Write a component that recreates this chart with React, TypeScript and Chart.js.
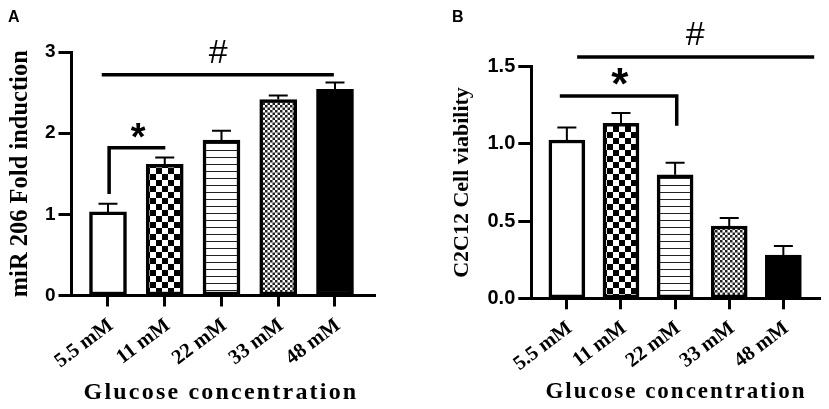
import React, { useEffect, useRef } from "react";
import { Chart, registerables } from "chart.js";

Chart.register(...registerables);

const categories = ["5.5 mM", "11 mM", "22 mM", "33 mM", "48 mM"];
const positions = [0, 1, 2, 3, 4];

const inductionValues = [1.03, 1.615, 1.915, 2.415, 2.54];
const inductionErrorTops = [1.13, 1.7, 2.03, 2.465, 2.625];
const inductionTicks = [0, 1, 2, 3];
const inductionHashLine = [[-0.11, 2.72], [3.98, 2.72]];
const inductionStarLine = [[0.02, 1.25], [0.02, 1.82], [1.01, 1.82]];
const inductionHashAt = [1.94, 2.98];
const inductionStarAt = [0.53, 2.03];

const viabilityValues = [1.025, 1.133, 0.8, 0.468, 0.28];
const viabilityErrorTops = [1.107, 1.2, 0.878, 0.52, 0.339];
const viabilityTicks = [0, 0.5, 1.0, 1.5];
const viabilityHashLine = [[0.19, 1.563], [4.57, 1.563]];
const viabilityStarLine = [[-0.13, 1.31], [2.03, 1.31], [2.03, 1.118]];
const viabilityHashAt = [2.37, 1.7];
const viabilityStarAt = [0.98, 1.43];

function makePattern(size: number, paint: (c: CanvasRenderingContext2D) => void) {
  const cv = document.createElement("canvas");
  cv.width = size;
  cv.height = size;
  const c = cv.getContext("2d")!;
  c.fillStyle = "#fff";
  c.fillRect(0, 0, size, size);
  c.fillStyle = "#000";
  paint(c);
  return c.createPattern(cv, "repeat")!;
}

function fills() {
  const coarse = makePattern(12, (c) => {
    c.fillRect(0, 0, 6, 6);
    c.fillRect(6, 6, 6, 6);
  });
  const lines = makePattern(7, (c) => {
    c.fillStyle = "#222";
    c.fillRect(0, 3, 7, 1);
  });
  const fine = makePattern(5, (c) => {
    c.fillStyle = "#222";
    c.fillRect(0, 0, 2.5, 2.5);
    c.fillRect(2.5, 2.5, 2.5, 2.5);
  });
  return ["#ffffff", coarse, lines, fine, "#000000"];
}

const serifBold = "'Liberation Serif'";
const sansBold = "'Liberation Sans'";

type PanelSpec = {
  letter: string;
  letterX: number;
  letterY: number;
  values: number[];
  errorTops: number[];
  ticks: number[];
  tickDigits: number;
  tickSize: number;
  yMax: number;
  xMin: number;
  xMax: number;
  width: number;
  left: number;
  right: number;
  top: number;
  bottom: number;
  barWidth: number;
  yTitle: string;
  yTitleSize: number;
  yTitlePad: number;
  hashLine: number[][];
  starLine: number[][];
  hashAt: number[];
  starAt: number[];
  starSize: number;
  xTitleX: number;
  xTitleY: number;
  xTitleSize: number;
  xTitleSpacing: number;
  offset: number;
};

const panelA: PanelSpec = {
  letter: "A", letterX: 8, letterY: 22,
  values: inductionValues, errorTops: inductionErrorTops, ticks: inductionTicks, tickDigits: 0, tickSize: 19,
  yMax: 3, xMin: -0.643, xMax: 4.705,
  width: 415, left: 71.5, right: 375, top: 52, bottom: 295.5, barWidth: 37,
  yTitle: "miR 206 Fold induction", yTitleSize: 24.5, yTitlePad: 6,
  hashLine: inductionHashLine, starLine: inductionStarLine, hashAt: inductionHashAt, starAt: inductionStarAt,
  starSize: 38, xTitleX: 221, xTitleY: 399, xTitleSize: 24, xTitleSpacing: 2.2, offset: 0,
};

const panelB: PanelSpec = {
  letter: "B", letterX: 37, letterY: 22,
  values: viabilityValues, errorTops: viabilityErrorTops, ticks: viabilityTicks, tickDigits: 1, tickSize: 20,
  yMax: 1.5, xMin: -0.657, xMax: 4.69,
  width: 414, left: 116.3, right: 405.7, top: 66.7, bottom: 298.3, barWidth: 36,
  yTitle: "C2C12 Cell viability", yTitleSize: 22, yTitlePad: 34,
  hashLine: viabilityHashLine, starLine: viabilityStarLine, hashAt: viabilityHashAt, starAt: viabilityStarAt,
  starSize: 44, xTitleX: 261, xTitleY: 398, xTitleSize: 23, xTitleSpacing: 2, offset: 415,
};

function Panel({ spec }: { spec: PanelSpec }) {
  const ref = useRef<HTMLCanvasElement>(null);
  useEffect(() => {
    const annotate = {
      id: "annotate",
      afterDatasetsDraw(chart: any) {
        const { ctx, scales } = chart;
        const px = (v: number) => scales.x.getPixelForValue(v);
        const py = (v: number) => scales.y.getPixelForValue(v);
        ctx.save();
        ctx.strokeStyle = "#000";
        // error bars
        ctx.lineWidth = 2;
        spec.values.forEach((v, i) => {
          const x = px(positions[i]);
          ctx.beginPath();
          ctx.moveTo(x, py(v));
          ctx.lineTo(x, py(spec.errorTops[i]));
          ctx.moveTo(x - 9.5, py(spec.errorTops[i]));
          ctx.lineTo(x + 9.5, py(spec.errorTops[i]));
          ctx.stroke();
        });
        // brackets
        ctx.lineWidth = 3.5;
        for (const line of [spec.hashLine, spec.starLine]) {
          ctx.beginPath();
          line.forEach(([x, y], i) => (i ? ctx.lineTo(px(x), py(y)) : ctx.moveTo(px(x), py(y))));
          ctx.stroke();
        }
        ctx.fillStyle = "#000";
        ctx.textAlign = "center";
        ctx.textBaseline = "middle";
        ctx.font = `34px ${sansBold}`;
        ctx.fillText("#", px(spec.hashAt[0]), py(spec.hashAt[1]));
        ctx.font = `bold ${spec.starSize}px ${sansBold}`;
        ctx.fillText("*", px(spec.starAt[0]), py(spec.starAt[1]) + spec.starSize * 0.22);
        // panel letter
        ctx.textAlign = "left";
        ctx.textBaseline = "alphabetic";
        ctx.font = `bold 16px ${sansBold}`;
        ctx.fillText(spec.letter, spec.letterX, spec.letterY);
        // x axis title
        ctx.textAlign = "center";
        ctx.font = `bold ${spec.xTitleSize}px ${serifBold}`;
        (ctx as any).letterSpacing = `${spec.xTitleSpacing}px`;
        ctx.fillText("Glucose concentration", spec.xTitleX, spec.xTitleY);
        ctx.restore();
      },
    };
    const chart = new Chart(ref.current!, {
      type: "bar",
      data: {
        datasets: [
          {
            data: positions.map((x, i) => ({ x, y: spec.values[i] })),
            backgroundColor: fills(),
            borderColor: "#000",
            borderWidth: 3.5,
            borderSkipped: false,
            barThickness: spec.barWidth,
          } as any,
        ],
      },
      options: {
        animation: false,
        responsive: false,
        devicePixelRatio: 1,
        layout: { padding: { top: spec.top, right: spec.width - spec.right, left: 0, bottom: 0 } },
        plugins: { legend: { display: false }, tooltip: { enabled: false } },
        scales: {
          x: {
            type: "linear",
            offset: false,
            min: spec.xMin,
            max: spec.xMax,
            afterBuildTicks(scale: any) {
              scale.ticks = positions.map((value) => ({ value }));
            },
            afterFit(scale: any) {
              scale.height = 409 - spec.bottom;
            },
            grid: { offset: false, drawOnChartArea: false, drawTicks: true, tickLength: 11, tickWidth: 3, tickColor: "#000" },
            border: { display: true, color: "#000", width: 3 },
            ticks: {
              autoSkip: false,
              maxRotation: 37,
              minRotation: 37,
              padding: 7,
              labelOffset: 3,
              color: "#000",
              font: { family: serifBold, weight: "bold", size: 20.5 },
              callback: (v: any) => categories[v as number],
            },
          } as any,
          y: {
            min: 0,
            max: spec.yMax,
            afterBuildTicks(scale: any) {
              scale.ticks = spec.ticks.map((value) => ({ value }));
            },
            afterFit(scale: any) {
              scale.width = spec.left;
            },
            grid: { drawOnChartArea: false, drawTicks: true, tickLength: 13, tickWidth: 3, tickColor: "#000" },
            border: { display: true, color: "#000", width: 3 },
            title: {
              display: true,
              text: spec.yTitle,
              color: "#000",
              font: { family: serifBold, weight: "bold", size: spec.yTitleSize },
              padding: { top: spec.yTitlePad, bottom: 0 },
            },
            ticks: {
              padding: 3,
              color: "#000",
              font: { family: sansBold, weight: "bold", size: spec.tickSize },
              callback: (v: any) => Number(v).toFixed(spec.tickDigits),
            },
          } as any,
        },
      },
      plugins: [annotate],
    });
    return () => chart.destroy();
  }, []);
  return (
    <canvas
      ref={ref}
      width={spec.width}
      height={409}
      style={{ position: "absolute", left: spec.offset, top: 0, width: spec.width, height: 409 }}
    />
  );
}

export default function App() {
  return (
    <div style={{ position: "fixed", left: 0, top: 0, width: 829, height: 409, background: "#fff", overflow: "hidden" }}>
      <Panel spec={panelA} />
      <Panel spec={panelB} />
    </div>
  );
}
